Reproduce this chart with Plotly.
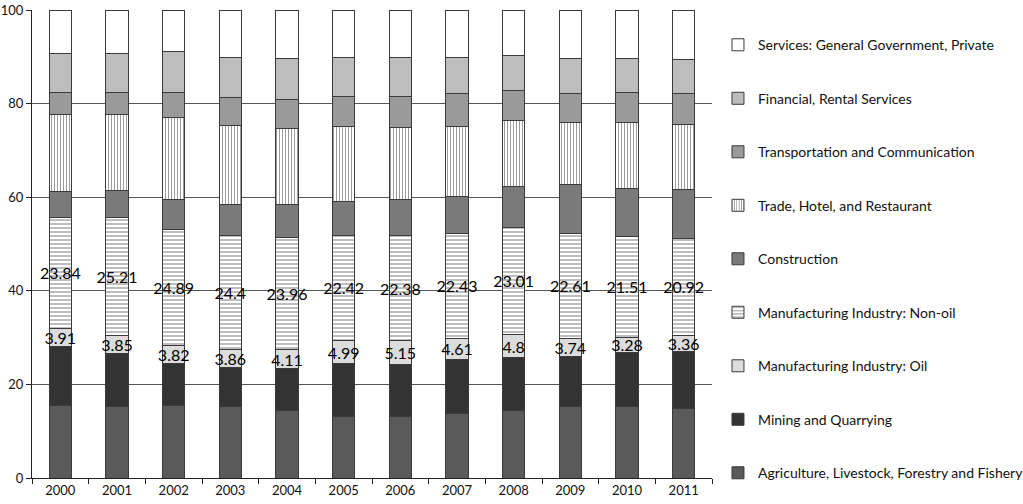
import plotly.graph_objects as go

# anni e quote (%) dei settori
years = ['2000', '2001', '2002', '2003', '2004', '2005', '2006', '2007', '2008', '2009', '2010', '2011']
agriculture = [15.55, 15.34, 15.55, 15.34, 14.5, 13.2, 13.1, 13.85, 14.5, 15.34, 15.34, 14.8]
mining = [12.45, 11.16, 8.9, 8.3, 8.8, 11.2, 11.1, 11.45, 11.3, 10.66, 11.5, 12.2]
oil = [3.91, 3.85, 3.82, 3.86, 4.11, 4.99, 5.15, 4.61, 4.8, 3.74, 3.28, 3.36]
non_oil = [23.84, 25.21, 24.89, 24.4, 23.96, 22.42, 22.38, 22.43, 23.01, 22.61, 21.51, 20.92]
construction = [5.4, 5.9, 6.4, 6.55, 7.05, 7.3, 7.7, 7.8, 8.6, 10.4, 10.25, 10.4]
trade = [16.5, 16.2, 17.4, 16.9, 16.3, 16.0, 15.4, 15.0, 14.1, 13.25, 14.0, 13.9]
transport = [4.8, 4.8, 5.5, 6.05, 6.2, 6.5, 6.7, 7.0, 6.4, 6.25, 6.4, 6.5]
financial = [8.3, 8.3, 8.6, 8.5, 8.7, 8.3, 8.3, 7.8, 7.5, 7.4, 7.4, 7.3]
services = [9.25, 9.24, 8.94, 10.1, 10.38, 10.09, 10.17, 10.06, 9.79, 10.35, 10.32, 10.62]

y_ticks = [0, 20, 40, 60, 80, 100]

# (nome, valori, colore, pattern, etichette)
series = [
    ('Agriculture, Livestock, Forestry and Fishery', agriculture, '#5a5a5a', '', False),
    ('Mining and Quarrying', mining, '#333333', '', False),
    ('Manufacturing Industry: Oil', oil, '#dcdcdc', '', True),
    ('Manufacturing Industry: Non-oil', non_oil, 'white', '-', True),
    ('Construction', construction, '#7a7a7a', '', False),
    ('Trade, Hotel, and Restaurant', trade, 'white', '|', False),
    ('Transportation and Communication', transport, '#9a9a9a', '', False),
    ('Financial, Rental Services', financial, '#bdbdbd', '', False),
    ('Services: General Government, Private', services, 'white', '', False),
]

fig = go.Figure()
for i, (name, vals, col, pat, lab) in enumerate(series):
    marker = dict(color=col, line=dict(color='#3a3a3a', width=1))
    if pat == '-':
        marker['pattern'] = dict(shape='-', fgcolor='#222', bgcolor='white', size=4, solidity=0.3)
    elif pat == '|':
        marker['pattern'] = dict(shape='|', fgcolor='#222', bgcolor='white', size=3, solidity=0.3)
    fig.add_trace(go.Bar(
        x=years, y=vals, name=name, marker=marker, legendgroup=str(i),
        legendrank=len(series) - i,
        text=[str(v) for v in vals] if lab else None,
        textposition='inside' if lab else 'none',
        insidetextanchor='middle', textangle=0, constraintext='none',
        textfont=dict(family='Lato', size=16, color='black'),
        hoverinfo='x+y+name',
    ))

fig.update_layout(
    width=1023, height=504,
    barmode='stack', bargap=0.61,
    plot_bgcolor='white', paper_bgcolor='white',
    font=dict(family='Lato', size=13, color='#111'),
    margin=dict(l=32, r=311, t=10, b=26, autoexpand=False),
    showlegend=True,
    legend=dict(x=1.0088, y=0.959, xanchor='left', yanchor='top',
                traceorder='grouped', tracegroupgap=32.3, maxheight=1,
                font=dict(family='Lato', size=14, color='#111')),
    xaxis=dict(type='category', showline=True, linecolor='#222', linewidth=1,
               ticks='outside', tickson='boundaries', ticklen=5, tickcolor='#222',
               showgrid=False),
    yaxis=dict(range=[0, 100], tickvals=y_ticks, showline=True, linecolor='#222',
               linewidth=1, ticks='outside', ticklen=5, tickcolor='#222',
               showgrid=True, gridcolor='#555', gridwidth=1, zeroline=False),
)

# togli il margine di 8px del body così la figura parte da (0,0)
fig.write_html('out.html', config={'displayModeBar': False},
               post_script="document.body.style.margin='0';")
